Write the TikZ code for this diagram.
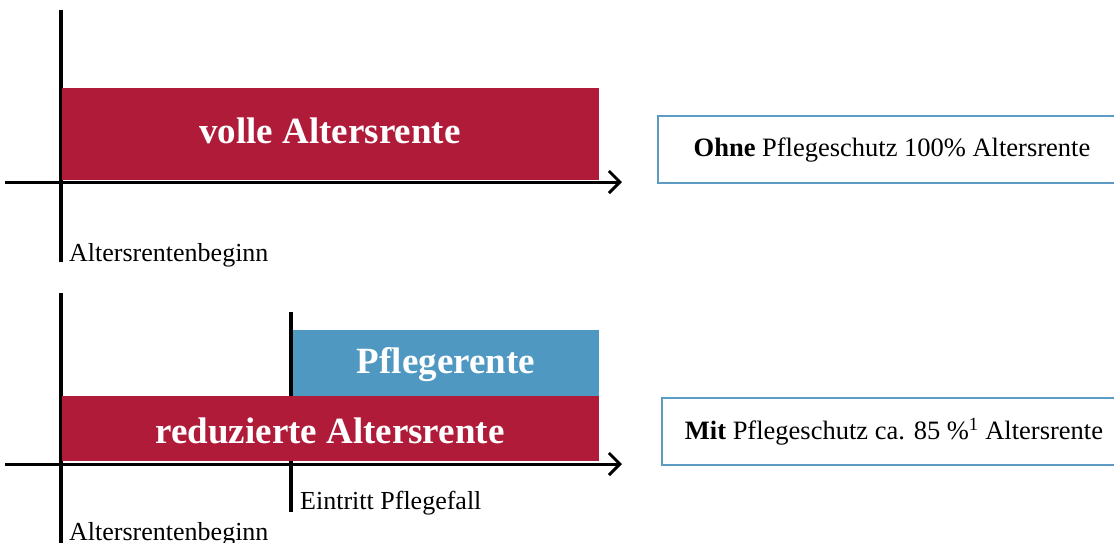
\documentclass[tikz,border=0pt]{standalone}
\usepackage{fontspec}
\setmainfont{Liberation Serif}
\usetikzlibrary{arrows.meta}
\definecolor{rentred}{HTML}{B01B3A}
\definecolor{rentblue}{HTML}{4F98C2}
\definecolor{boxblue}{HTML}{5B9BC4}
\tikzset{
  axis/.style={line width=3pt,-{Straight Barb[length=11pt,width=22pt,line width=3pt]}},
  vaxis/.style={line width=4pt},
  bartext/.style={text=white,font=\fontsize{37}{40}\selectfont\bfseries},
  labeltext/.style={font=\fontsize{26}{28}\selectfont,anchor=base west,inner sep=0pt},
  infobox/.style={draw=boxblue,line width=2.5pt,fill=white},
  infotext/.style={font=\fontsize{26.5}{28}\selectfont}
}
\begin{document}
\begin{tikzpicture}[x=1pt,y=-1pt]
\useasboundingbox (0,0) rectangle (1114,542);
% top diagram
\coordinate (v0) at (61,10);
\coordinate (v1) at (61,262);
\draw[vaxis] (v0) -- (v1);
\fill[rentred] (62,88) rectangle (599,180);
\node[bartext] (volle) at (330,131) {volle Altersrente};
\coordinate (t0) at (5,182);
\coordinate (t1) at (622,182);
\draw[axis] (t0) -- (t1);
\node[labeltext] (arb1) at (69,261) {Altersrentenbeginn};
\draw[infobox] (658,116) rectangle (1125,183);
\node[infotext] (ohne) at (892,150) {\textbf{Ohne} Pflegeschutz 100\% Altersrente};
% bottom diagram
\coordinate (w0) at (61,293);
\coordinate (w1) at (61,545);
\draw[vaxis] (w0) -- (w1);
\coordinate (p0) at (291,312);
\coordinate (p1) at (291,512);
\draw[vaxis] (p0) -- (p1);
\fill[rentblue] (293,330) rectangle (599,396);
\fill[rentred] (62,396) rectangle (599,461);
\node[bartext] (pflege) at (446,365) {Pflegerente};
\node[bartext] (reduz) at (330,431) {reduzierte Altersrente};
\coordinate (b0) at (5,464);
\coordinate (b1) at (622,464);
\draw[axis] (b0) -- (b1);
\node[labeltext] (eintritt) at (300,509) {Eintritt Pflegefall};
\node[labeltext] (arb2) at (69,540) {Altersrentenbeginn};
\draw[infobox] (662,398) rectangle (1125,465);
\node[infotext] (mit) at (894,432) {\textbf{Mit} Pflegeschutz ca. 85 \%\textsuperscript{1} Altersrente};
\end{tikzpicture}
\end{document}
